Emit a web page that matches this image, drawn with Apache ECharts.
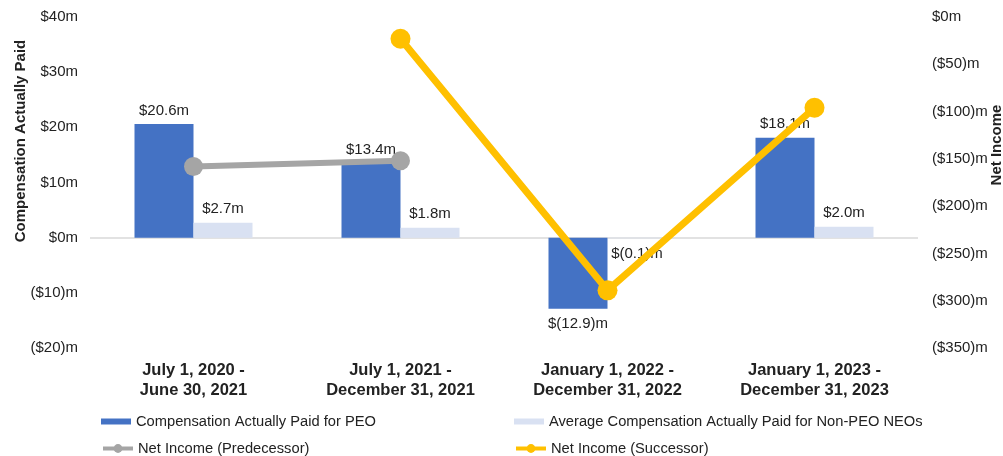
<!DOCTYPE html>
<html>
<head>
<meta charset="utf-8">
<script src="https://cdn.jsdelivr.net/npm/echarts@6/dist/echarts.min.js"></script>
<style>
html,body{margin:0;padding:0;background:#fff;}
#chart{width:1003px;height:456px;}
</style>
</head>
<body>
<div id="chart"></div>
<script>
const categories = [
  'July 1, 2020 -\nJune 30, 2021',
  'July 1, 2021 -\nDecember 31, 2021',
  'January 1, 2022 -\nDecember 31, 2022',
  'January 1, 2023 -\nDecember 31, 2023'
];
const peoValues = [20.6, 13.4, -12.9, 18.1];
const nonPeoValues = [2.7, 1.8, -0.1, 2.0];
const netIncomePredecessor = [-158, -152, null, null];
const netIncomeSuccessor = [null, -23, -289, -96];

const seriesNames = [
  'Compensation Actually Paid for PEO',
  'Average Compensation Actually Paid for Non-PEO NEOs',
  'Net Income (Predecessor)',
  'Net Income (Successor)'
];
const leftAxisTitle = 'Compensation Actually Paid';
const rightAxisTitle = 'Net Income';

const FONT = '"Liberation Sans", Arial, sans-serif';
const TXT = '#222';

function money(v) {
  if (v < 0) return '$(' + Math.abs(v).toFixed(1) + ')m';
  return '$' + v.toFixed(1) + 'm';
}
function axisMoney(v) {
  if (v < 0) return '($' + Math.abs(v) + ')m';
  return '$' + v + 'm';
}
function barData(arr) {
  return arr.map(v => ({
    value: v,
    label: { position: v < 0 ? 'bottom' : 'top', distance: v < 0 ? 8 : 6 }
  }));
}

const chart = echarts.init(document.getElementById('chart'), null, { renderer: 'canvas' });

const legendBase = {
  itemGap: 0,
  textStyle: { fontFamily: FONT, fontSize: 14.7, color: TXT },
  selectedMode: false
};

const option = {
  animation: false,
  backgroundColor: '#fff',
  grid: { left: 90, right: 85, top: 17, bottom: 108 },
  xAxis: {
    type: 'category',
    data: categories,
    axisLine: { show: false, onZero: false },
    axisTick: { show: false },
    axisLabel: {
      margin: 12,
      fontFamily: FONT,
      fontSize: 16.5,
      fontWeight: 'bold',
      lineHeight: 20,
      color: TXT,
      interval: 0
    }
  },
  yAxis: [
    {
      type: 'value',
      min: -20, max: 40, interval: 10,
      splitLine: { show: false },
      axisLine: { show: false },
      axisTick: { show: false },
      axisLabel: {
        margin: 12,
        fontFamily: FONT, fontSize: 15, color: TXT,
        formatter: axisMoney
      }
    },
    {
      type: 'value',
      min: -350, max: 0, interval: 50,
      position: 'right',
      splitLine: { show: false },
      axisLine: { show: false },
      axisTick: { show: false },
      axisLabel: {
        margin: 14,
        fontFamily: FONT, fontSize: 15, color: TXT,
        formatter: axisMoney
      }
    }
  ],
  legend: [
    Object.assign({}, legendBase, { left: 96, top: 409, itemWidth: 30, itemHeight: 6, data: [{ name: seriesNames[0], icon: 'rect' }] }),
    Object.assign({}, legendBase, { left: 509, top: 409, itemWidth: 30, itemHeight: 6, data: [{ name: seriesNames[1], icon: 'rect' }] }),
    Object.assign({}, legendBase, { left: 96, top: 436, itemWidth: 30, itemHeight: 11, lineStyle: { width: 4 }, data: [{ name: seriesNames[2] }] }),
    Object.assign({}, legendBase, { left: 509, top: 436, itemWidth: 30, itemHeight: 11, lineStyle: { width: 4 }, data: [{ name: seriesNames[3] }] })
  ],
  graphic: [
    {
      type: 'text', x: 21, y: 141, rotation: Math.PI / 2,
      style: { text: leftAxisTitle, font: 'bold 15px ' + FONT, fill: TXT, align: 'center', verticalAlign: 'middle' }
    },
    {
      type: 'text', x: 997, y: 145, rotation: Math.PI / 2,
      style: { text: rightAxisTitle, font: 'bold 15px ' + FONT, fill: TXT, align: 'center', verticalAlign: 'middle' }
    }
  ],
  series: [
    {
      name: seriesNames[0],
      type: 'bar',
      yAxisIndex: 0,
      barWidth: 59,
      barGap: '0%',
      itemStyle: { color: '#4472C4' },
      label: { show: true, fontFamily: FONT, fontSize: 15, color: TXT, formatter: p => money(p.value) },
      data: barData(peoValues),
      markLine: {
        silent: true,
        symbol: 'none',
        label: { show: false },
        lineStyle: { color: '#D9D9D9', width: 1.5, type: 'solid' },
        data: [{ yAxis: 0 }],
        z: 1
      }
    },
    {
      name: seriesNames[1],
      type: 'bar',
      yAxisIndex: 0,
      barWidth: 59,
      barGap: '0%',
      itemStyle: { color: '#D9E1F2' },
      label: { show: true, fontFamily: FONT, fontSize: 15, color: TXT, formatter: p => money(p.value) },
      data: barData(nonPeoValues)
    },
    {
      name: seriesNames[2],
      type: 'line',
      yAxisIndex: 1,
      z: 5,
      symbol: 'circle',
      symbolSize: 19,
      itemStyle: { color: '#A5A5A5' },
      lineStyle: { color: '#A5A5A5', width: 6 },
      data: netIncomePredecessor
    },
    {
      name: seriesNames[3],
      type: 'line',
      yAxisIndex: 1,
      z: 5,
      symbol: 'circle',
      symbolSize: 20,
      itemStyle: { color: '#FFC000' },
      lineStyle: { color: '#FFC000', width: 7 },
      data: netIncomeSuccessor
    }
  ]
};
chart.setOption(option);
</script>
</body>
</html>
